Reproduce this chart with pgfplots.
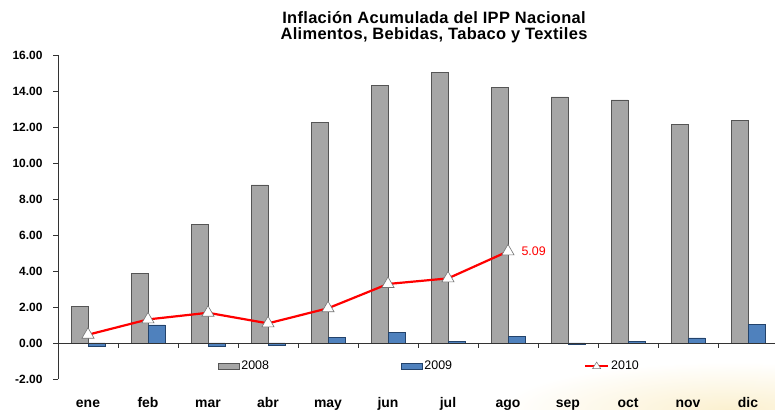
\documentclass[border=0pt]{standalone}
\usepackage{pgfplots}
\pgfplotsset{compat=1.18}
\usepackage{pgfplotstable}
\usepackage{fontspec}
\setmainfont{Liberation Sans}
\definecolor{gbar}{HTML}{A6A6A6}
\definecolor{gedge}{HTML}{555555}
\definecolor{bbar}{HTML}{4F81BD}
\definecolor{bedge}{HTML}{23436B}
\definecolor{glow}{HTML}{FBF0CF}
\pgfplotstableread{
x v08 v09
0 2.03 -0.20
1 3.87 1.00
2 6.60 -0.20
3 8.78 -0.12
4 12.26 0.32
5 14.33 0.59
6 15.04 0.08
7 14.20 0.37
8 13.67 -0.04
9 13.50 0.08
10 12.13 0.28
11 12.35 1.05
}\dataA
\pgfplotstableread{
x v10
0 0.46
1 1.31
2 1.68
3 1.09
4 1.93
5 3.28
6 3.59
7 5.09
}\dataB
\begin{document}
\begin{tikzpicture}
\shade[inner color=glow, outer color=white] (730bp,0bp) ellipse (230bp and 48bp);
\begin{axis}[
  at={(58bp,31bp)}, anchor=south west, scale only axis,
  width=720bp, height=324bp,
  xmin=-0.5, xmax=11.5, ymin=-2, ymax=16,
  axis y line*=left, axis x line*=bottom,
  x axis line style={draw=none},
  y axis line style={black!80},
  xtick={0,...,11},
  xticklabels={ene,feb,mar,abr,may,jun,jul,ago,sep,oct,nov,dic},
  x tick style={draw=none},
  xticklabel style={font=\bfseries\fontsize{14}{16}\selectfont, anchor=base, yshift=-23.5bp},
  ytick={-2,0,...,16},
  y tick style={black!80},
  tick align=outside, major tick length=5bp,
  yticklabel style={font=\bfseries\fontsize{12}{14}\selectfont, xshift=-7bp,
    /pgf/number format/.cd, fixed, fixed zerofill, precision=2, assume math mode=true},
  legend columns=3,
  legend style={at={(axis description cs:0.2222,0.0401)}, anchor=west,
    draw=none, fill=none, inner sep=0pt, outer sep=0pt,
    font=\fontsize{12.5}{14}\selectfont,
    /tikz/every even column/.append style={column sep=130bp}},
]
\addplot[ybar, bar width=17bp, bar shift=-8.5bp, fill=gbar, draw=gedge,
  legend image code/.code={\draw[fill=gbar, draw=gedge] (0bp,-3.2bp) rectangle (21bp,3.2bp);}]
  table[x=x, y=v08] {\dataA};
\addlegendentry{2008}
\addplot[ybar, bar width=17bp, bar shift=8.5bp, fill=bbar, draw=bedge,
  legend image code/.code={\draw[fill=bbar, draw=bedge] (0bp,-3.2bp) rectangle (21bp,3.2bp);}]
  table[x=x, y=v09] {\dataA};
\addlegendentry{2009}
\addplot[red, line width=2.2bp, mark=triangle*, mark size=7bp,
  mark options={fill=white, draw=black!55, line width=0.6bp, solid},
  legend image code/.code={\draw[red, line width=2bp] (0bp,0bp) -- (23bp,0bp);
     \draw[fill=white, draw=black!55, line width=0.5bp] (11.5bp,0bp) ++(0,4bp) -- ++(-4bp,-6.5bp) -- ++(8bp,0) -- cycle;}]
  table[x=x, y=v10] {\dataB};
\addlegendentry{2010}
\draw[black!80] (axis cs:-0.5,0) -- (axis cs:11.5,0);
\pgfplotsinvokeforeach{0.5,1.5,2.5,3.5,4.5,5.5,6.5,7.5,8.5,9.5,10.5}{\draw[black!80] (axis cs:#1,0) -- ([yshift=-5bp]axis cs:#1,0);}
\node[text=red, font=\fontsize{12.5}{14}\selectfont, anchor=west, xshift=10bp] at (axis cs:7,5.09) {5.09};
\end{axis}
\begin{scope}[every node/.style={font=\bfseries\fontsize{16.5}{17}\selectfont\addfontfeature{LetterSpace=2}, anchor=base}]
\node at (434bp,386.7bp) {Inflación Acumulada del IPP Nacional};
\node at (434bp,370bp) {Alimentos, Bebidas, Tabaco y Textiles};
\end{scope}
\pgfresetboundingbox
\path[use as bounding box] (0,0) rectangle (775bp,410bp);
\end{tikzpicture}
\end{document}
